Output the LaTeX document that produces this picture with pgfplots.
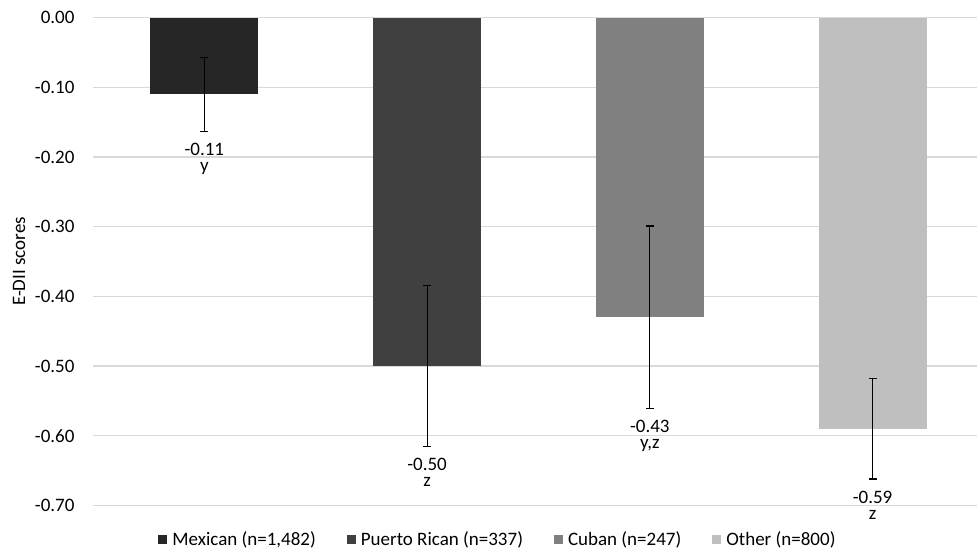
\documentclass[border=0pt]{standalone}
\usepackage{pgfplots}
\pgfplotsset{compat=1.18}
\usepackage{fontspec}
\setmainfont{Carlito}
\definecolor{cMex}{HTML}{262626}
\definecolor{cPR}{HTML}{404040}
\definecolor{cCub}{HTML}{808080}
\definecolor{cOth}{HTML}{BFBFBF}
\definecolor{cGrid}{HTML}{D9D9D9}
\begin{document}
\fontsize{19}{23}\selectfont
\begin{tikzpicture}
\begin{axis}[
  at={(0pt,0pt)}, anchor=south west,
  scale only axis, width=891pt, height=488pt,
  xmin=-0.5, xmax=3.5, ymin=-0.7, ymax=0,
  xtick=\empty,
  ytick={-0.7,-0.6,-0.5,-0.4,-0.3,-0.2,-0.1,0},
  yticklabels={-0.70,-0.60,-0.50,-0.40,-0.30,-0.20,-0.10,0.00},
  /pgf/number format/assume math mode=true,
  ymajorgrids, grid style={draw=cGrid, line width=1.2pt},
  axis line style={draw=none},
  major tick length=0pt,
  yticklabel style={xshift=-12pt, font=\fontsize{19}{23}\selectfont},
  ylabel={E-DII scores},
  every axis y label/.style={at={(axis description cs:-0.083,0.5)}, rotate=90, anchor=center, font=\fontsize{19}{23}\selectfont},
  legend columns=4,
  legend style={at={(axis description cs:0.4545,-0.0707)}, anchor=center, draw=none, fill=none, font=\fontsize{19}{23}\selectfont, /tikz/every even column/.append style={column sep=29pt}},
  legend image code/.code={\fill[#1] (0pt,-4.5pt) rectangle (9pt,4.5pt); \path (12pt,0pt);},
  clip=false,
  error bars/error bar style={line width=1.2pt, black},
  error bars/error mark options={rotate=90, mark size=4pt, line width=1.2pt, black},
]
\addplot[ybar, bar width=108pt, bar shift=0pt, fill=cMex, draw=none,
  error bars/.cd, y dir=both, y explicit]
  coordinates {(0,-0.11) +- (0,0.053)};
\addlegendentry{Mexican (n=1,482)}
\addplot[ybar, bar width=108pt, bar shift=0pt, fill=cPR, draw=none,
  error bars/.cd, y dir=both, y explicit]
  coordinates {(1,-0.50) +- (0,0.115)};
\addlegendentry{Puerto Rican (n=337)}
\addplot[ybar, bar width=108pt, bar shift=0pt, fill=cCub, draw=none,
  error bars/.cd, y dir=both, y explicit]
  coordinates {(2,-0.43) +- (0,0.131)};
\addlegendentry{Cuban (n=247)}
\addplot[ybar, bar width=108pt, bar shift=0pt, fill=cOth, draw=none,
  error bars/.cd, y dir=both, y explicit]
  coordinates {(3,-0.59) +- (0,0.072)};
\addlegendentry{Other (n=800)}
% value labels
\addplot[draw=none, mark=none, forget plot, nodes near coords, point meta=explicit symbolic,
  every node near coord/.append style={anchor=base, inner sep=0pt, yshift=-24pt, font=\fontsize{19}{23}\selectfont}]
  coordinates {(0,-0.163)[-0.11] (1,-0.615)[-0.50] (2,-0.561)[-0.43] (3,-0.662)[-0.59]};
% significance letters
\addplot[draw=none, mark=none, forget plot, nodes near coords, point meta=explicit symbolic,
  every node near coord/.append style={anchor=base, inner sep=0pt, yshift=-40pt, font=\fontsize{19}{23}\selectfont}]
  coordinates {(0,-0.163)[y] (1,-0.615)[z] (2,-0.561)[{y,z}] (3,-0.662)[z]};
\end{axis}
\pgfresetboundingbox
\path[use as bounding box] (-93pt,-47.5pt) rectangle (884pt,505.5pt);
\end{tikzpicture}
\end{document}
